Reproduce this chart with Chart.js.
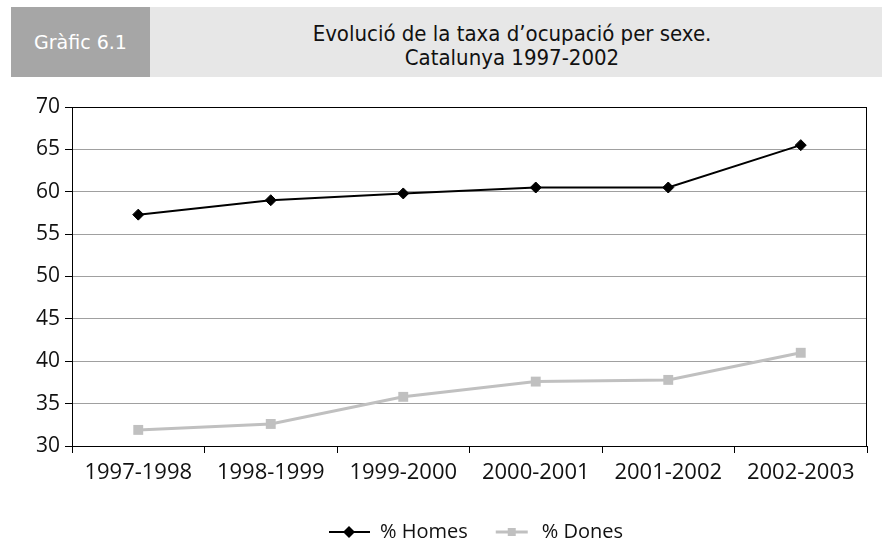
<!DOCTYPE html>
<html>
<head>
<meta charset="utf-8">
<script src="https://cdn.jsdelivr.net/npm/chart.js@4"></script>
<style>
  body { margin: 0; background: #fff; overflow: hidden; }
  #wrap { position: relative; width: 882px; height: 544px; }
  #tag { position: absolute; left: 11px; top: 7px; width: 139px; height: 70px; background: #a6a6a6;
         color: #fff; font: 19px "DejaVu Sans", sans-serif; line-height: 70px; text-align: center; }
  #head { position: absolute; left: 150px; top: 7px; width: 732px; height: 70px; background: #e7e7e7;
          color: #111; font: 22px "DejaVu Sans Condensed", sans-serif; text-align: center; line-height: 24px;
          padding-top: 15px; box-sizing: border-box; padding-right: 8px; }
  canvas { position: absolute; left: 0; top: 0; }
</style>
</head>
<body>
<div id="wrap">
  <div id="tag">Gràfic 6.1</div>
  <div id="head">Evolució de la taxa d’ocupació per sexe.<br>Catalunya 1997-2002</div>
  <canvas id="chart" width="882" height="544"></canvas>
</div>
<script>
// categories and series
const years = ['1997-1998', '1998-1999', '1999-2000', '2000-2001', '2001-2002', '2002-2003'];
const homes = [57.3, 59.0, 59.8, 60.5, 60.5, 65.5];
const dones = [31.9, 32.6, 35.8, 37.6, 37.8, 41.0];

// little line+marker pictures for the legend (blank strip on the left = gap between items)
const legendIcon = (color, lineW, shape) => {
  const c = document.createElement('canvas');
  c.width = 54; c.height = 14;
  const g = c.getContext('2d');
  g.strokeStyle = color; g.lineWidth = lineW;
  g.beginPath();
  if (shape === 'diamond') { g.moveTo(13, 7); g.lineTo(54, 7); } else { g.moveTo(18, 7); g.lineTo(50, 7); }
  g.stroke();
  g.fillStyle = color;
  g.beginPath();
  if (shape === 'diamond') {
    g.moveTo(33, 1); g.lineTo(39, 7); g.lineTo(33, 13); g.lineTo(27, 7);
  } else {
    g.rect(30, 3, 8, 8);
  }
  g.fill();
  return c;
};

// box round the plot (top and right edges)
const frame = {
  id: 'frame',
  afterDraw(chart) {
    const a = chart.chartArea, ctx = chart.ctx;
    ctx.save();
    ctx.strokeStyle = '#000';
    ctx.lineWidth = 1;
    ctx.strokeRect(a.left + 0.5, a.top + 0.5, a.right - a.left - 1, a.bottom - a.top);
    ctx.restore();
  }
};

new Chart(document.getElementById('chart'), {
  type: 'line',
  data: {
    labels: years,
    datasets: [{
      label: '% Homes',
      data: homes,
      borderColor: '#000',
      backgroundColor: '#000',
      borderWidth: 2,
      pointStyle: 'rectRot',
      pointRadius: 5.5,
      pointBorderWidth: 1,
      tension: 0,
      legendIcon: legendIcon('#000', 2, 'diamond')
    }, {
      label: '% Dones',
      data: dones,
      borderColor: '#c0c0c0',
      backgroundColor: '#c0c0c0',
      borderWidth: 3,
      pointStyle: 'rect',
      pointRadius: 7,
      pointBorderWidth: 0,
      tension: 0,
      legendIcon: legendIcon('#c0c0c0', 3, 'square')
    }]
  },
  options: {
    responsive: false,
    animation: false,
    layout: { padding: { top: 107, right: 15, left: 0, bottom: -8 } },
    plugins: {
      tooltip: { enabled: false },
      legend: {
        position: 'bottom',
        fullSize: false,
        labels: {
          usePointStyle: true,
          pointStyleWidth: 54,
          color: '#111',
          font: { family: 'Open Sans', size: 20 },
          padding: 10,
          generateLabels: (chart) => chart.data.datasets.map((ds, i) => ({
            text: ds.label,
            pointStyle: ds.legendIcon,
            fillStyle: ds.backgroundColor,
            strokeStyle: ds.borderColor,
            lineWidth: 0,
            datasetIndex: i,
            fontColor: '#111'
          }))
        }
      }
    },
    scales: {
      x: {
        offset: true,
        grid: { offset: true, drawOnChartArea: false, tickColor: '#000', tickLength: 7 },
        border: { color: '#000' },
        ticks: { color: '#111', font: { family: 'Open Sans', size: 22 }, padding: 7, maxRotation: 0 },
        afterFit: (s) => { s.height = 66; }
      },
      y: {
        min: 30, max: 70,
        ticks: { stepSize: 5, color: '#111', font: { family: 'Open Sans', size: 21 }, padding: 5 },
        grid: { color: '#a0a0a0', tickColor: '#000', tickLength: 7 },
        border: { color: '#000' },
        afterFit: (s) => { s.width = 72; }
      }
    }
  },
  plugins: [frame]
});
</script>
</body>
</html>
